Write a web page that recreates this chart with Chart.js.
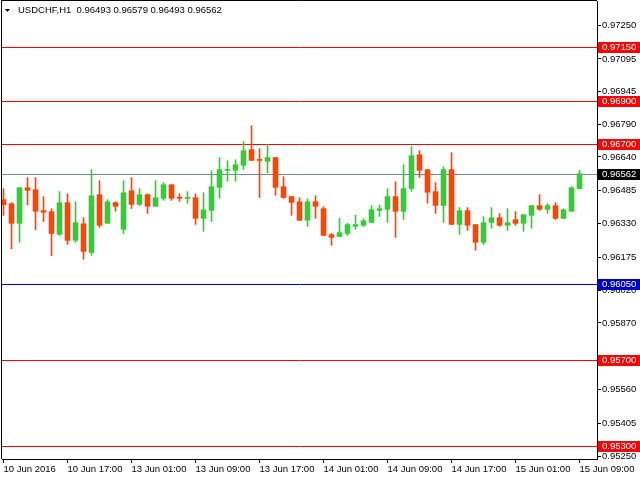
<!DOCTYPE html>
<html lang="en">
<head>
<meta charset="UTF-8">
<title>USDCHF,H1</title>
<script src="https://cdn.jsdelivr.net/npm/chart.js"></script>
<style>
  html, body { margin: 0; padding: 0; background: #fff; }
  #wrap { width: 640px; height: 480px; }
</style>
</head>
<body>
<div id="wrap"><canvas id="chart" width="640" height="480"></canvas></div>
<script>
// hourly candles, 10 Jun 09:00 -> 15 Jun 09:00 (weekend skipped)
const symbol = 'USDCHF,H1';
const opens = [
  0.96442, 0.96423, 0.96332, 0.96497, 0.96488, 0.96391, 0.96386, 0.96281, 0.96428, 0.96253,
  0.96330, 0.96197, 0.96465, 0.96332, 0.96428, 0.96304, 0.96483, 0.96420, 0.96465, 0.96411,
  0.96448, 0.96511, 0.96451, 0.96448, 0.96451, 0.96355, 0.96392, 0.96499, 0.96578, 0.96578,
  0.96601, 0.96674, 0.96627, 0.96620, 0.96637, 0.96502, 0.96456, 0.96432, 0.96346, 0.96432,
  0.96400, 0.96279, 0.96271, 0.96285, 0.96318, 0.96323, 0.96336, 0.96392, 0.96397, 0.96456,
  0.96388, 0.96494, 0.96650, 0.96581, 0.96479, 0.96415, 0.96581, 0.96327, 0.96391, 0.96326,
  0.96244, 0.96336, 0.96358, 0.96323, 0.96349, 0.96332, 0.96369, 0.96414, 0.96397, 0.96414,
  0.96355, 0.96388, 0.96493
];
const highs = [
  0.96493, 0.96428, 0.96497, 0.96544, 0.96544, 0.96456, 0.96400, 0.96479, 0.96469, 0.96432,
  0.96358, 0.96581, 0.96530, 0.96442, 0.96432, 0.96530, 0.96544, 0.96493, 0.96469, 0.96530,
  0.96521, 0.96511, 0.96469, 0.96479, 0.96469, 0.96474, 0.96576, 0.96637, 0.96623, 0.96627,
  0.96711, 0.96785, 0.96678, 0.96697, 0.96637, 0.96548, 0.96456, 0.96451, 0.96446, 0.96460,
  0.96409, 0.96285, 0.96355, 0.96332, 0.96369, 0.96353, 0.96414, 0.96418, 0.96493, 0.96525,
  0.96604, 0.96688, 0.96669, 0.96581, 0.96521, 0.96595, 0.96660, 0.96405, 0.96405, 0.96326,
  0.96363, 0.96405, 0.96377, 0.96400, 0.96386, 0.96372, 0.96414, 0.96465, 0.96423, 0.96428,
  0.96400, 0.96502, 0.96579
];
const lows = [
  0.96369, 0.96214, 0.96244, 0.96418, 0.96302, 0.96340, 0.96182, 0.96276, 0.96234, 0.96244,
  0.96165, 0.96183, 0.96313, 0.96332, 0.96388, 0.96285, 0.96401, 0.96415, 0.96378, 0.96411,
  0.96439, 0.96439, 0.96434, 0.96425, 0.96327, 0.96295, 0.96341, 0.96448, 0.96527, 0.96527,
  0.96582, 0.96624, 0.96452, 0.96567, 0.96462, 0.96448, 0.96369, 0.96346, 0.96318, 0.96355,
  0.96276, 0.96230, 0.96271, 0.96276, 0.96304, 0.96318, 0.96336, 0.96364, 0.96336, 0.96267,
  0.96350, 0.96480, 0.96545, 0.96425, 0.96378, 0.96336, 0.96327, 0.96281, 0.96299, 0.96207,
  0.96234, 0.96309, 0.96318, 0.96299, 0.96323, 0.96295, 0.96309, 0.96392, 0.96378, 0.96350,
  0.96355, 0.96388, 0.96493
];
const closes = [
  0.96418, 0.96332, 0.96497, 0.96485, 0.96388, 0.96383, 0.96285, 0.96428, 0.96253, 0.96335,
  0.96202, 0.96460, 0.96323, 0.96432, 0.96411, 0.96474, 0.96420, 0.96465, 0.96411, 0.96451,
  0.96511, 0.96448, 0.96448, 0.96451, 0.96355, 0.96395, 0.96502, 0.96581, 0.96581, 0.96604,
  0.96669, 0.96624, 0.96624, 0.96637, 0.96499, 0.96452, 0.96429, 0.96346, 0.96432, 0.96411,
  0.96276, 0.96267, 0.96289, 0.96326, 0.96326, 0.96344, 0.96395, 0.96400, 0.96456, 0.96388,
  0.96493, 0.96646, 0.96578, 0.96476, 0.96415, 0.96581, 0.96327, 0.96391, 0.96323, 0.96244,
  0.96335, 0.96358, 0.96323, 0.96335, 0.96332, 0.96372, 0.96414, 0.96397, 0.96414, 0.96355,
  0.96395, 0.96497, 0.96562
];

// one time label every 8 bars
const timeLabels = ['10 Jun 2016', '10 Jun 17:00', '13 Jun 01:00', '13 Jun 09:00', '13 Jun 17:00',
  '14 Jun 01:00', '14 Jun 09:00', '14 Jun 17:00', '15 Jun 01:00', '15 Jun 09:00'];
const barsPerLabel = 8;

// 0.95715 is hidden behind the 0.95700 box in the terminal, so it's left out
const priceTicks = [0.97250, 0.97095, 0.96945, 0.96790, 0.96640, 0.96485, 0.96330, 0.96175,
  0.96020, 0.95870, 0.95560, 0.95405, 0.95250];

// horizontal levels drawn on the chart
const levels = [0.97150, 0.96900, 0.96700, 0.96562, 0.96050, 0.95700, 0.95300];
const levelColors = ['#ff0000', '#ff0000', '#ff0000', '#778899', '#0000cd', '#ff0000', '#ff0000'];
const levelBoxColors = ['#ff0000', '#ff0000', '#ff0000', '#000000', '#0000cd', '#ff0000', '#ff0000'];

const UP = '#32cd32', DOWN = '#ff4500';
const FONT = { family: 'Liberation Sans', size: 9.5 };
const X_MIN = -0.1875, X_MAX = 74.1875;
const Y_MIN = 0.952384, Y_MAX = 0.973637;

const idx = opens.map((_, i) => i);
const candleColors = idx.map(i => closes[i] >= opens[i] ? UP : DOWN);

const wickData = idx.map(i => ({ x: i, y: [lows[i], highs[i]] }));
const bodyData = idx.map(i => ({ x: i, y: [Math.min(opens[i], closes[i]), Math.max(opens[i], closes[i])] }));

// bg, level lines (snapped to whole pixels so they stay crisp), frame, header, price boxes
const terminalPlugin = {
  id: 'terminal',
  beforeDraw(chart) {
    const ctx = chart.ctx;
    ctx.save();
    ctx.fillStyle = '#fff';
    ctx.fillRect(0, 0, chart.width, chart.height);
    ctx.restore();
  },
  beforeDatasetsDraw(chart) {
    const { ctx, chartArea } = chart;
    const y = chart.scales.y;
    ctx.save();
    ctx.lineWidth = 1;
    levels.forEach((v, i) => {
      const py = Math.round(y.getPixelForValue(v)) + 0.5;
      ctx.strokeStyle = levelColors[i];
      ctx.beginPath();
      ctx.moveTo(chartArea.left, py);
      ctx.lineTo(chartArea.right, py);
      ctx.stroke();
    });
    ctx.restore();
  },
  afterDraw(chart) {
    const { ctx, chartArea } = chart;
    ctx.save();
    ctx.strokeStyle = '#000';
    ctx.lineWidth = 1;
    ctx.beginPath();
    ctx.moveTo(chartArea.left - 0.5, chartArea.bottom);
    ctx.lineTo(chartArea.left - 0.5, chartArea.top - 0.5);
    ctx.lineTo(chartArea.right, chartArea.top - 0.5);
    ctx.stroke();

    // header: symbol + last OHLC
    const n = opens.length - 1;
    ctx.fillStyle = '#000';
    ctx.beginPath();
    ctx.moveTo(5, 9); ctx.lineTo(10, 9); ctx.lineTo(7.5, 12); ctx.closePath();
    ctx.fill();
    ctx.font = `${FONT.size}px ${FONT.family}`;
    ctx.textBaseline = 'middle';
    ctx.fillText(`${symbol}  ${opens[n].toFixed(5)} ${highs[n].toFixed(5)} ${lows[n].toFixed(5)} ${closes[n].toFixed(5)}`, 18, 10.5);

    // price boxes on the right axis
    const y = chart.scales.y;
    levels.forEach((v, i) => {
      const py = Math.round(y.getPixelForValue(v));
      ctx.fillStyle = levelBoxColors[i];
      ctx.fillRect(chartArea.right + 1, py - 5, chart.width - chartArea.right - 1, 11);
      ctx.fillStyle = '#fff';
      ctx.fillText(v.toFixed(5), chartArea.right + 5, py + 0.5);
    });
    ctx.restore();
  }
};

new Chart(document.getElementById('chart'), {
  type: 'bar',
  data: {
    datasets: [
      { data: wickData, backgroundColor: candleColors, barThickness: 1, grouped: false, order: 2 },
      { data: bodyData, backgroundColor: candleColors, barThickness: 5, minBarLength: 1, grouped: false, order: 1 }
    ]
  },
  options: {
    responsive: false,
    animation: false,
    layout: { padding: { left: 2, top: 1, right: 0, bottom: 0 } },
    plugins: { legend: { display: false }, tooltip: { enabled: false } },
    scales: {
      x: {
        type: 'linear', min: X_MIN, max: X_MAX, offset: false,
        grid: { drawOnChartArea: false, offset: false, tickLength: 4, color: '#000' },
        border: { color: '#000' },
        ticks: {
          autoSkip: false, maxRotation: 0, align: 'start', padding: 1,
          font: FONT, color: '#000',
          callback: (v, i) => timeLabels[i]
        },
        afterBuildTicks: s => { s.ticks = timeLabels.map((t, i) => ({ value: i * barsPerLabel })); },
        afterFit: s => { s.height = 21; s.paddingLeft = 0; s.paddingRight = 0; }
      },
      y: {
        type: 'linear', position: 'right', min: Y_MIN, max: Y_MAX,
        grid: { drawOnChartArea: false, tickLength: 4, color: '#000' },
        border: { color: '#000' },
        ticks: { padding: 1, font: FONT, color: '#000', callback: v => v.toFixed(5) },
        afterBuildTicks: s => { s.ticks = priceTicks.map(v => ({ value: v })); },
        afterFit: s => { s.width = 43; s.paddingTop = 0; s.paddingBottom = 0; }
      }
    }
  },
  plugins: [terminalPlugin]
});
</script>
</body>
</html>
